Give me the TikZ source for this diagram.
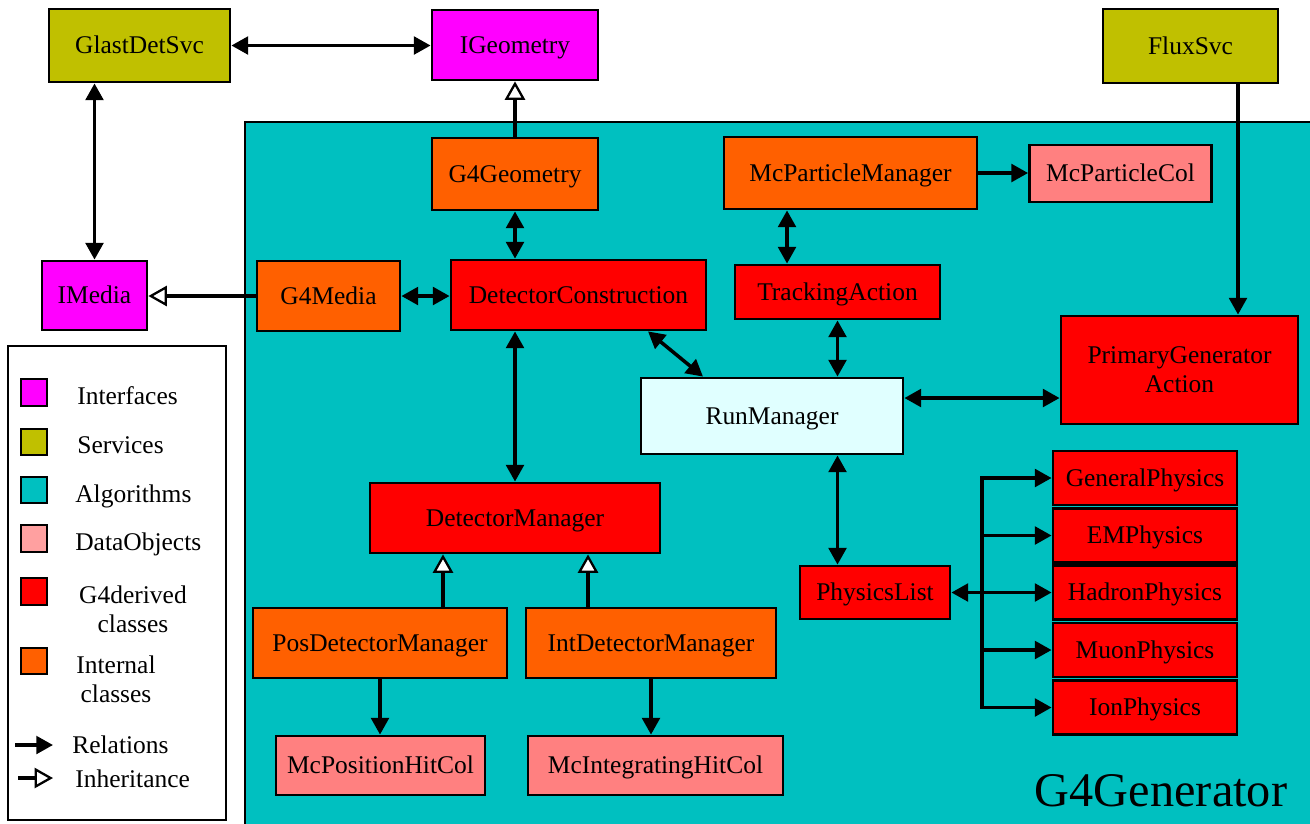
\documentclass[tikz,border=0pt]{standalone}
\usepackage{fontspec}
\setmainfont{Liberation Serif}
\usetikzlibrary{arrows.meta}
\usetikzlibrary{calc}

\definecolor{ifacecol}{HTML}{FF00FF}
\definecolor{svccol}{HTML}{C0C000}
\definecolor{algcol}{HTML}{00C0C0}
\definecolor{datacol}{HTML}{FF8080}
\definecolor{datalegcol}{HTML}{FFA0A0}
\definecolor{gfourcol}{HTML}{FF0000}
\definecolor{intcol}{HTML}{FF6000}
\definecolor{runcol}{HTML}{E0FFFF}

\tikzset{
  txt/.style={font=\fontsize{14.5}{16.5}\selectfont},
  box/.style={draw,line width=1.6pt,inner sep=0pt,align=center,txt,text height=9.6pt,text depth=0pt},
  sz/.style 2 args={minimum width=#1*0.02cm,minimum height=#2*0.02cm},
  iface/.style={box,fill=ifacecol},
  svc/.style={box,fill=svccol},
  data/.style={box,fill=datacol},
  gfour/.style={box,fill=gfourcol},
  intl/.style={box,fill=intcol},
  swatch/.style={draw,line width=1.2pt,minimum size=0.53cm,inner sep=0pt},
  legtext/.style={txt,inner sep=0pt},
  rel/.style={line width=2pt},
  inh/.style={line width=2pt,-{Triangle[fill=white,line width=1.3pt,length=10.5pt,width=11.5pt]}}
}

\begin{document}
\begin{tikzpicture}[x=0.02cm,y=-0.02cm,>={Triangle[length=9.5pt,width=10pt]}]

  \useasboundingbox (0,0) rectangle (1310,823);

  % algorithm area
  \draw[line width=1.6pt,fill=algcol] (245,122) rectangle (1340,840);
  \node[inner sep=0pt,font=\fontsize{27.5}{30}\selectfont] (g4gen) at (1161,791) {G4Generator};

  \node[svc,sz={181}{73}]   (glast)    at (139.5,45.5) {GlastDetSvc};
  \node[iface,sz={166}{70}] (igeom)    at (515,45)     {IGeometry};
  \node[svc,sz={175}{74}]   (flux)     at (1190.5,46)  {FluxSvc};

  \node[intl,sz={166}{72}]  (g4geom)   at (515,174)    {G4Geometry};
  \node[intl,sz={253}{72}]  (mcpm)     at (850.5,173)  {McParticleManager};
  \node[data,sz={182}{57}]  (mcpcol)   at (1120.5,173.5) {McParticleCol};
  \node[iface,sz={105}{69}] (imedia)   at (94.5,295.5) {IMedia};
  \node[intl,sz={143}{70}]  (g4media)  at (328.5,296)  {G4Media};
  \node[gfour,sz={255}{70}] (detcon)   at (578.5,295)  {DetectorConstruction};
  \node[gfour,sz={205}{54}] (track)    at (837.5,292)  {TrackingAction};
  \node[gfour,sz={237}{108},text height=,text depth=] (pga) at (1179.5,370) {PrimaryGenerator\\Action};
  \node[box,fill=runcol,sz={262}{76}] (runmgr) at (772,416) {RunManager};
  \node[gfour,sz={290}{70}] (detmgr)   at (515,518)    {DetectorManager};
  \node[gfour,sz={150}{53}] (physlist) at (875,592.5)  {PhysicsList};
  \foreach \n/\t/\y in {general/GeneralPhysics/478,em/EMPhysics/535.5,hadron/HadronPhysics/592.5,muon/MuonPhysics/650,ion/IonPhysics/707.5}
    \node[gfour,sz={184}{54}] (\n) at (1145,\y) {\t};
  \node[intl,sz={254}{70}]  (posdm)    at (380,643)    {PosDetectorManager};
  \node[intl,sz={250}{70}]  (intdm)    at (651,643)    {IntDetectorManager};
  \node[data,sz={209}{59}]  (mcposhit) at (380.5,765.5) {McPositionHitCol};
  \node[data,sz={255}{59}]  (mcinthit) at (655.5,765.5) {McIntegratingHitCol};

  % relations
  \draw[rel,<->] (glast.east) -- (glast.east -| igeom.west);
  \draw[rel,<->] (imedia.north) -- (imedia.north |- glast.south);
  \draw[inh] (g4geom.north) -- (igeom.south);
  \draw[rel,<->] (g4geom.south) -- (g4geom.south |- detcon.north);
  \draw[inh] (g4media.west) -- (g4media.west -| imedia.east);
  \draw[rel,<->] (g4media.east) -- (g4media.east -| detcon.west);
  \draw[rel,<->] (detmgr.north |- detcon.south) -- (detmgr.north);
  \draw[rel,<->] ([xshift=1.39cm]detcon.south) -- ([xshift=-1.38cm]runmgr.north);
  \draw[rel,<->] ([xshift=-1.27cm]mcpm.south) -- ([xshift=-1.27cm]mcpm.south |- track.north);
  \draw[rel,->] (mcpm.east) -- (mcpm.east -| mcpcol.west);
  \draw[rel,<->] (track.south) -- (track.south |- runmgr.north);
  \draw[rel,<->] ([yshift=0.36cm]runmgr.east) -- ([yshift=0.36cm]runmgr.east -| pga.west);
  \draw[rel,->] ([xshift=0.95cm]flux.south) -- ([xshift=0.95cm]flux.south |- pga.north);
  \draw[rel,<->] (runmgr.south -| track.south) -- (physlist.north -| track.south);

  \coordinate (bus) at (982,0);
  \draw[rel,line cap=rect] (bus |- general.west) -- (bus |- ion.west);
  \foreach \n in {general,em,muon,ion}
    \draw[rel,->] (bus |- \n.west) -- (\n.west);
  \draw[rel,<->] (physlist.east) -- (physlist.east -| hadron.west);

  \draw[inh] ([xshift=1.26cm]posdm.north) -- ([xshift=1.26cm]posdm.north |- detmgr.south);
  \draw[inh] ([xshift=-1.26cm]intdm.north) -- ([xshift=-1.26cm]intdm.north |- detmgr.south);
  \draw[rel,->] (posdm.south) -- (posdm.south |- mcposhit.north);
  \draw[rel,->] (intdm.south) -- (intdm.south |- mcinthit.north);

  % legend
  \draw[line width=0.9pt,fill=white] (8,346) rectangle (226,820);
  \node[swatch,fill=ifacecol]   (legiface) at (34,392.5) {};
  \node[swatch,fill=svccol]     (legsvc)   at (34,442)   {};
  \node[swatch,fill=algcol]     (legalg)   at (34,490)   {};
  \node[swatch,fill=datalegcol] (legdata)  at (34,538.5) {};
  \node[swatch,fill=gfourcol]   (leggfour) at (34,591.5) {};
  \node[swatch,fill=intcol]     (legintl)  at (34,661)   {};
  \node[legtext,anchor=base west] (legifacet) at (77,404) {Interfaces};
  \node[legtext,anchor=base west] (legsvct)   at (77,453) {Services};
  \node[legtext,anchor=base west] (legalgt)   at (75,502) {Algorithms};
  \node[legtext,anchor=base west] (legdatat)  at (75,550) {DataObjects};
  \node[legtext,align=center]     (leggfourt) at (133,609) {G4derived\\classes};
  \node[legtext,align=center]     (legintlt)  at (116,679) {Internal\\classes};
  \coordinate (relA) at (15,745);
  \coordinate (relB) at (53,745);
  \coordinate (inhA) at (18,778);
  \coordinate (inhB) at (53,778);
  \draw[rel,->] (relA) -- (relB);
  \draw[inh] (inhA) -- (inhB);
  \node[legtext,anchor=base west] (relt) at (72,753) {Relations};
  \node[legtext,anchor=base west] (inht) at (75,787) {Inheritance};

\end{tikzpicture}
\end{document}
